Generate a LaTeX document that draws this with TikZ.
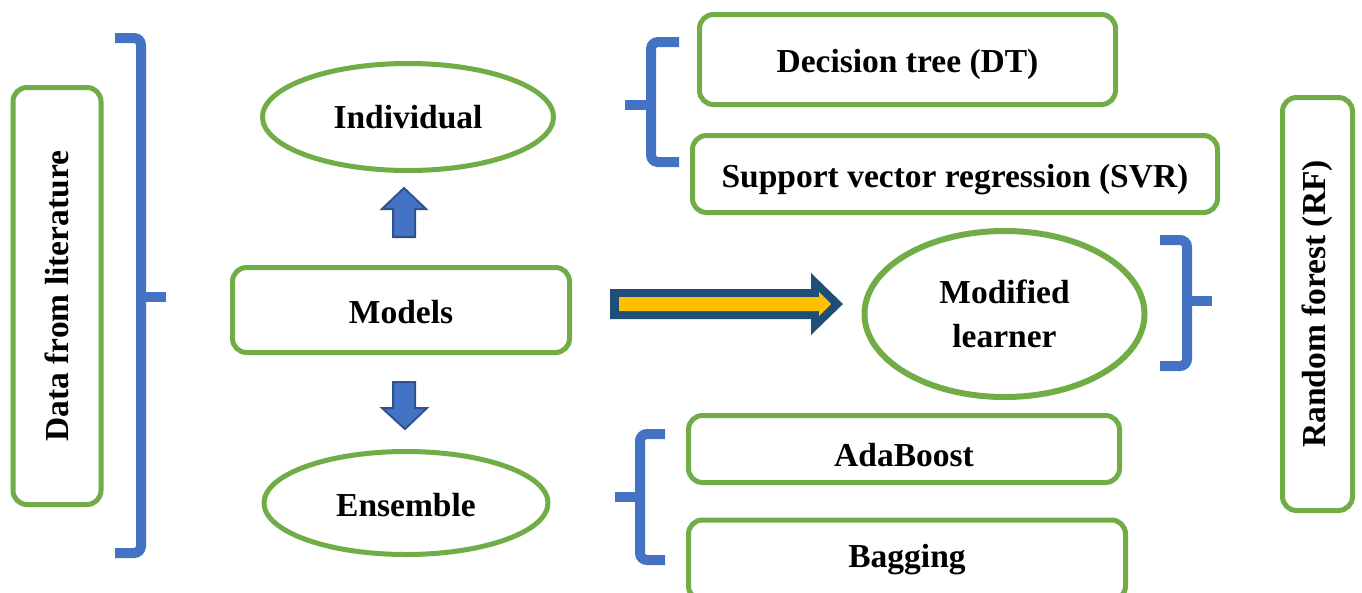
\documentclass[tikz,border=0pt]{standalone}
\usepackage{fontspec}
\setmainfont{Liberation Serif}
\usetikzlibrary{shapes.geometric}
\definecolor{grn}{HTML}{70AD47}
\definecolor{blu}{HTML}{4472C4}
\definecolor{bludark}{HTML}{2F528F}
\definecolor{navy}{HTML}{1F4E79}
\definecolor{gold}{HTML}{FFC000}
\begin{document}
\begin{tikzpicture}[x=1pt,y=-1pt,
  txt/.style={font=\fontsize{33.5}{44}\selectfont\bfseries},
  box/.style={draw=grn, line width=5pt, rounded corners=14pt, fill=white, inner sep=0pt, txt},
  oval/.style={ellipse, draw=grn, line width=5pt, fill=white, inner sep=0pt, txt, align=center},
  brace/.style={draw=blu, line width=10pt, rounded corners=7pt},
  blockarrow/.style={fill=blu, draw=bludark, line width=2pt, line join=miter}]
\clip (0,0) rectangle (1362,592);
\fill[white] (0,0) rectangle (1362,592);

% left column
\node[box, rotate=90, minimum width=417pt, minimum height=88pt] (data) at (57,296) {Data from literature};
\draw[brace] (115,38) -- (141,38) -- (141,553) -- (115,553);
\draw[brace, rounded corners=0pt] (141,297) -- (166,297);

% middle column
\node[oval, minimum width=291pt, minimum height=107pt] (indiv) at (408,117) {Individual};
\node[box, minimum width=337pt, minimum height=85pt, label={[txt, yshift=-2pt]center:Models}] (models) at (401,310) {};
\node[oval, minimum width=284pt, minimum height=103pt, label={[txt, yshift=-2pt]center:Ensemble}] (ens) at (406,503) {};

% block arrows up / down
\draw[blockarrow] (404,188) -- (426,209) -- (415,209) -- (415,237) -- (393,237) -- (393,209) -- (382,209) -- cycle;
\draw[blockarrow] (393,382) -- (415,382) -- (415,408) -- (427,408) -- (405,429) -- (382,408) -- (393,408) -- cycle;

% big arrow to modified learner
\fill[navy] (610,289) -- (811,289) -- (811,273) -- (843,304) -- (811,335) -- (811,319) -- (610,319) -- cycle;
\fill[gold] (619,297) -- (819,297) -- (819,292) -- (831,304) -- (819,316) -- (819,311) -- (619,311) -- cycle;

\node[oval, line width=6pt, minimum width=280pt, minimum height=166pt] (mod) at (1004.5,314) {Modified\\learner};
\draw[brace] (1160,240) -- (1187,240) -- (1187,366) -- (1160,366);
\draw[brace, rounded corners=0pt] (1187,301) -- (1212,301);

% top right group
\draw[brace] (679,42) -- (651,42) -- (651,162) -- (679,162);
\draw[brace, rounded corners=0pt] (651,105) -- (625,105);
\node[box, minimum width=416pt, minimum height=90pt, label={[txt, yshift=-5pt]center:Decision tree (DT)}] (dt) at (907.5,59.5) {};
\node[box, minimum width=525pt, minimum height=77pt, label={[txt, yshift=-6pt]center:Support vector regression (SVR)}] (svr) at (955,174) {};

% bottom right group
\draw[brace] (665,434) -- (640,434) -- (640,560) -- (665,560);
\draw[brace, rounded corners=0pt] (640,497) -- (615,497);
\node[box, minimum width=431pt, minimum height=67pt, label={[txt, yshift=-6pt]center:AdaBoost}] (ada) at (904,449) {};
\node[box, minimum width=437pt, minimum height=80pt] (bag) at (907,560) {Bagging};

% right column
\node[box, rotate=90, minimum width=413pt, minimum height=70pt] (rf) at (1317.5,304) {Random forest (RF)};
\end{tikzpicture}
\end{document}
